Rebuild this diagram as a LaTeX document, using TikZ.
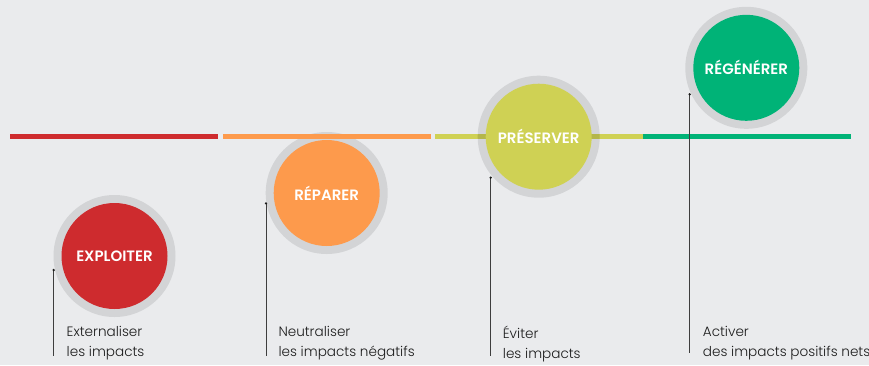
\documentclass[tikz,border=0pt]{standalone}
\usepackage{fontspec}
\setmainfont{Poppins}[UprightFont=*-Light,BoldFont=*-SemiBold]
\begin{document}
\definecolor{bg}{HTML}{EAEBED}
\definecolor{cred}{HTML}{CE2B2E}
\definecolor{corange}{HTML}{FD9A4C}
\definecolor{clime}{HTML}{CFD154}
\definecolor{cgreen}{HTML}{00B377}
\definecolor{ring}{HTML}{D3D4D6}
\definecolor{limedark}{HTML}{B4B64A}
\definecolor{ink}{HTML}{1C1C1C}
\begin{tikzpicture}[x=1pt,y=-1pt,
  stage/.style={circle,minimum size=106pt,inner sep=0pt,
    font=\bfseries\fontsize{15}{17}\selectfont,text=white},
  halo/.style={circle,fill=ring,minimum size=122pt,inner sep=0pt},
  bar/.style={line width=5.5pt},
  lead/.style={draw=ink!85,line width=0.8pt},
  caption/.style={anchor=north west,inner sep=0pt,align=left,text=ink,
    font=\fontsize{13.6}{20}\selectfont}]
  \useasboundingbox[fill=bg] (0,0) rectangle (869,365);

  % timeline segment under the halos
  \draw[bar,cred]    (10,136.7) -- (218,136.7);

  % halos behind the stage discs
  \node[halo] (h1) at (114.5,256) {};
  \node[halo] (h2) at (326.7,193) {};
  \node[halo] (h3) at (538.7,136.7) {};
  \node[halo] (h4) at (746.3,67.8) {};

  % timeline segments over the halos
  \draw[bar,corange] (223,136.7) -- (431,136.7);
  \draw[bar,clime]   (435,136.7) -- (643,136.7);
  \draw[bar,cgreen]  (643,136.7) -- (851,136.7);
  % the lime bar shows darker where it crosses its halo
  \begin{scope}
    \clip (538.7,136.7) circle (61pt);
    \draw[bar,limedark] (470,136.7) -- (610,136.7);
  \end{scope}

  % stage discs
  \node[stage,fill=cred]    (s1) at (h1) {EXPLOITER};
  \node[stage,fill=corange] (s2) at (h2) {RÉPARER};
  \node[stage,fill=clime]   (s3) at (h3) {PRÉSERVER};
  \node[stage,fill=cgreen]  (s4) at (h4) {RÉGÉNÉRER};

  % leader lines
  \coordinate (t1) at (53.7,270);   \coordinate (b1) at (53.7,356);
  \coordinate (t2) at (266,203.3);  \coordinate (b2) at (266,356);
  \coordinate (t3) at (490.7,177.7);\coordinate (b3) at (490.7,356);
  \coordinate (t4) at (689.7,94.3); \coordinate (b4) at (689.7,353);
  \foreach \i in {1,...,4}{
    \draw[lead] (t\i) -- (b\i);
    \fill[ink] (t\i) circle (1.3pt);
  }

  % captions
  \node[caption] (c1) at (66.5,326)  {Externaliser\\les impacts};
  \node[caption] (c2) at (278.3,326) {Neutraliser\\les impacts négatifs};
  \node[caption] (c3) at (502.7,326) {Éviter\\les impacts};
  \node[caption] (c4) at (702.7,326) {Activer\\des impacts positifs nets};
\end{tikzpicture}
\end{document}
